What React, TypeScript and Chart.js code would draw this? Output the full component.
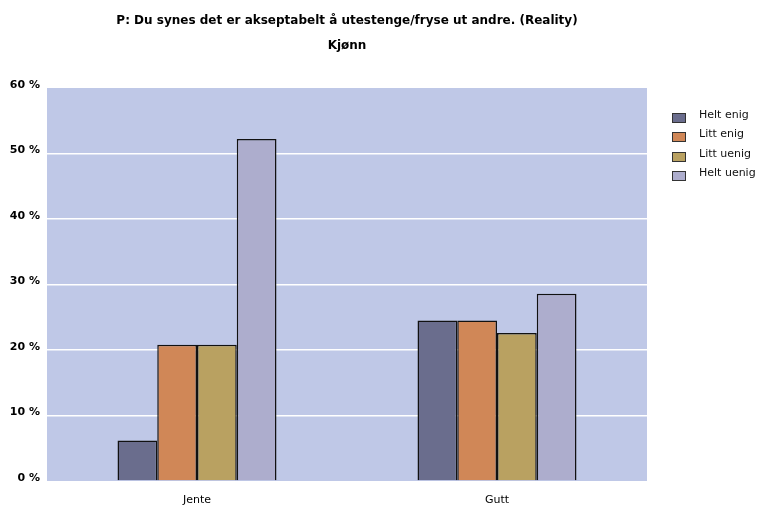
import React, { useEffect, useRef } from "react";
import { Chart, registerables } from "chart.js";

Chart.register(...registerables);

const titleLines = ["P: Du synes det er akseptabelt å utestenge/fryse ut andre. (Reality)", "Kjønn"];
const categories = ["Jente", "Gutt"];
const seriesNames = ["Helt enig", "Litt enig", "Litt uenig", "Helt uenig"];
const seriesColors = ["#6a6d8d", "#d08757", "#b9a161", "#adadcd"];
const heltEnig = [6.2, 24.5];
const littEnig = [20.8, 24.5];
const littUenig = [20.8, 22.6];
const heltUenig = [52.2, 28.6];
const seriesValues = [heltEnig, littEnig, littUenig, heltUenig];
const yTicks = [0, 10, 20, 30, 40, 50, 60];

const FONT = "'DejaVu Sans', Verdana, sans-serif";

const bgPlugin = {
  id: "plotBg",
  beforeDraw(chart: any) {
    const { ctx, chartArea } = chart;
    ctx.save();
    ctx.fillStyle = "#bfc8e7";
    ctx.fillRect(chartArea.left, chartArea.top, chartArea.right - chartArea.left, chartArea.bottom - chartArea.top);
    ctx.restore();
  },
};

const legendPlugin = {
  id: "customLegend",
  afterDraw(chart: any) {
    const { ctx, chartArea } = chart;
    ctx.save();
    ctx.font = `11px ${FONT}`;
    ctx.textBaseline = "middle";
    chart.data.datasets.forEach((ds: any, i: number) => {
      const boxTop = Math.round(chartArea.top + 25 + i * 19.3);
      const x = chartArea.right + 25;
      ctx.fillStyle = ds.backgroundColor;
      ctx.fillRect(x, boxTop, 14, 10);
      ctx.strokeStyle = "#333";
      ctx.lineWidth = 1;
      ctx.strokeRect(x + 0.5, boxTop + 0.5, 13, 9);
      ctx.fillStyle = "#111";
      ctx.fillText(ds.label, x + 27, boxTop + 2);
    });
    ctx.restore();
  },
};

export default function App() {
  const ref = useRef<HTMLCanvasElement>(null);
  useEffect(() => {
    if (!ref.current) return;
    const chart = new Chart(ref.current, {
      type: "bar",
      data: {
        labels: categories,
        datasets: seriesNames.map((name, i) => ({
          label: name,
          data: seriesValues[i],
          backgroundColor: seriesColors[i],
          borderColor: "#111",
          borderWidth: 1.5,
          barPercentage: 1,
          categoryPercentage: 0.53,
        })),
      },
      options: {
        responsive: false,
        animation: false,
        layout: { padding: { left: 0, right: 116, top: 0, bottom: 0 } },
        plugins: {
          legend: { display: false },
          tooltip: { enabled: false },
          title: {
            display: true,
            text: titleLines,
            fullSize: false,
            color: "#000",
            font: { family: FONT, size: 12, weight: "bold", lineHeight: "25px" },
            padding: { top: 8, bottom: 30 },
          },
        },
        scales: {
          x: {
            grid: { display: false, drawTicks: false },
            border: { display: false },
            ticks: { color: "#000", font: { family: FONT, size: 11 }, padding: 13 },
            afterFit: (s: any) => { s.height = 27; },
          },
          y: {
            min: 0,
            max: 60,
            afterBuildTicks: (s: any) => { s.ticks = yTicks.map((v) => ({ value: v })); },
            grid: {
              color: (c: any) => (c.tick && (c.tick.value === 0 || c.tick.value === 60) ? "rgba(0,0,0,0)" : "#ffffff"),
              lineWidth: 1.5,
              drawTicks: false,
            },
            border: { display: false },
            ticks: {
              color: "#000",
              font: { family: FONT, size: 11, weight: "bold" },
              padding: 7,
              labelOffset: -3,
              callback: (v: any) => `${v} %`,
            },
            afterFit: (s: any) => { s.width = 47; },
          },
        },
      },
      plugins: [bgPlugin, legendPlugin],
    });
    return () => chart.destroy();
  }, []);
  return (
    <div style={{ position: "fixed", left: 0, top: 0, width: 763, height: 508, background: "#fff" }}>
      <canvas ref={ref} width={763} height={508} />
    </div>
  );
}
